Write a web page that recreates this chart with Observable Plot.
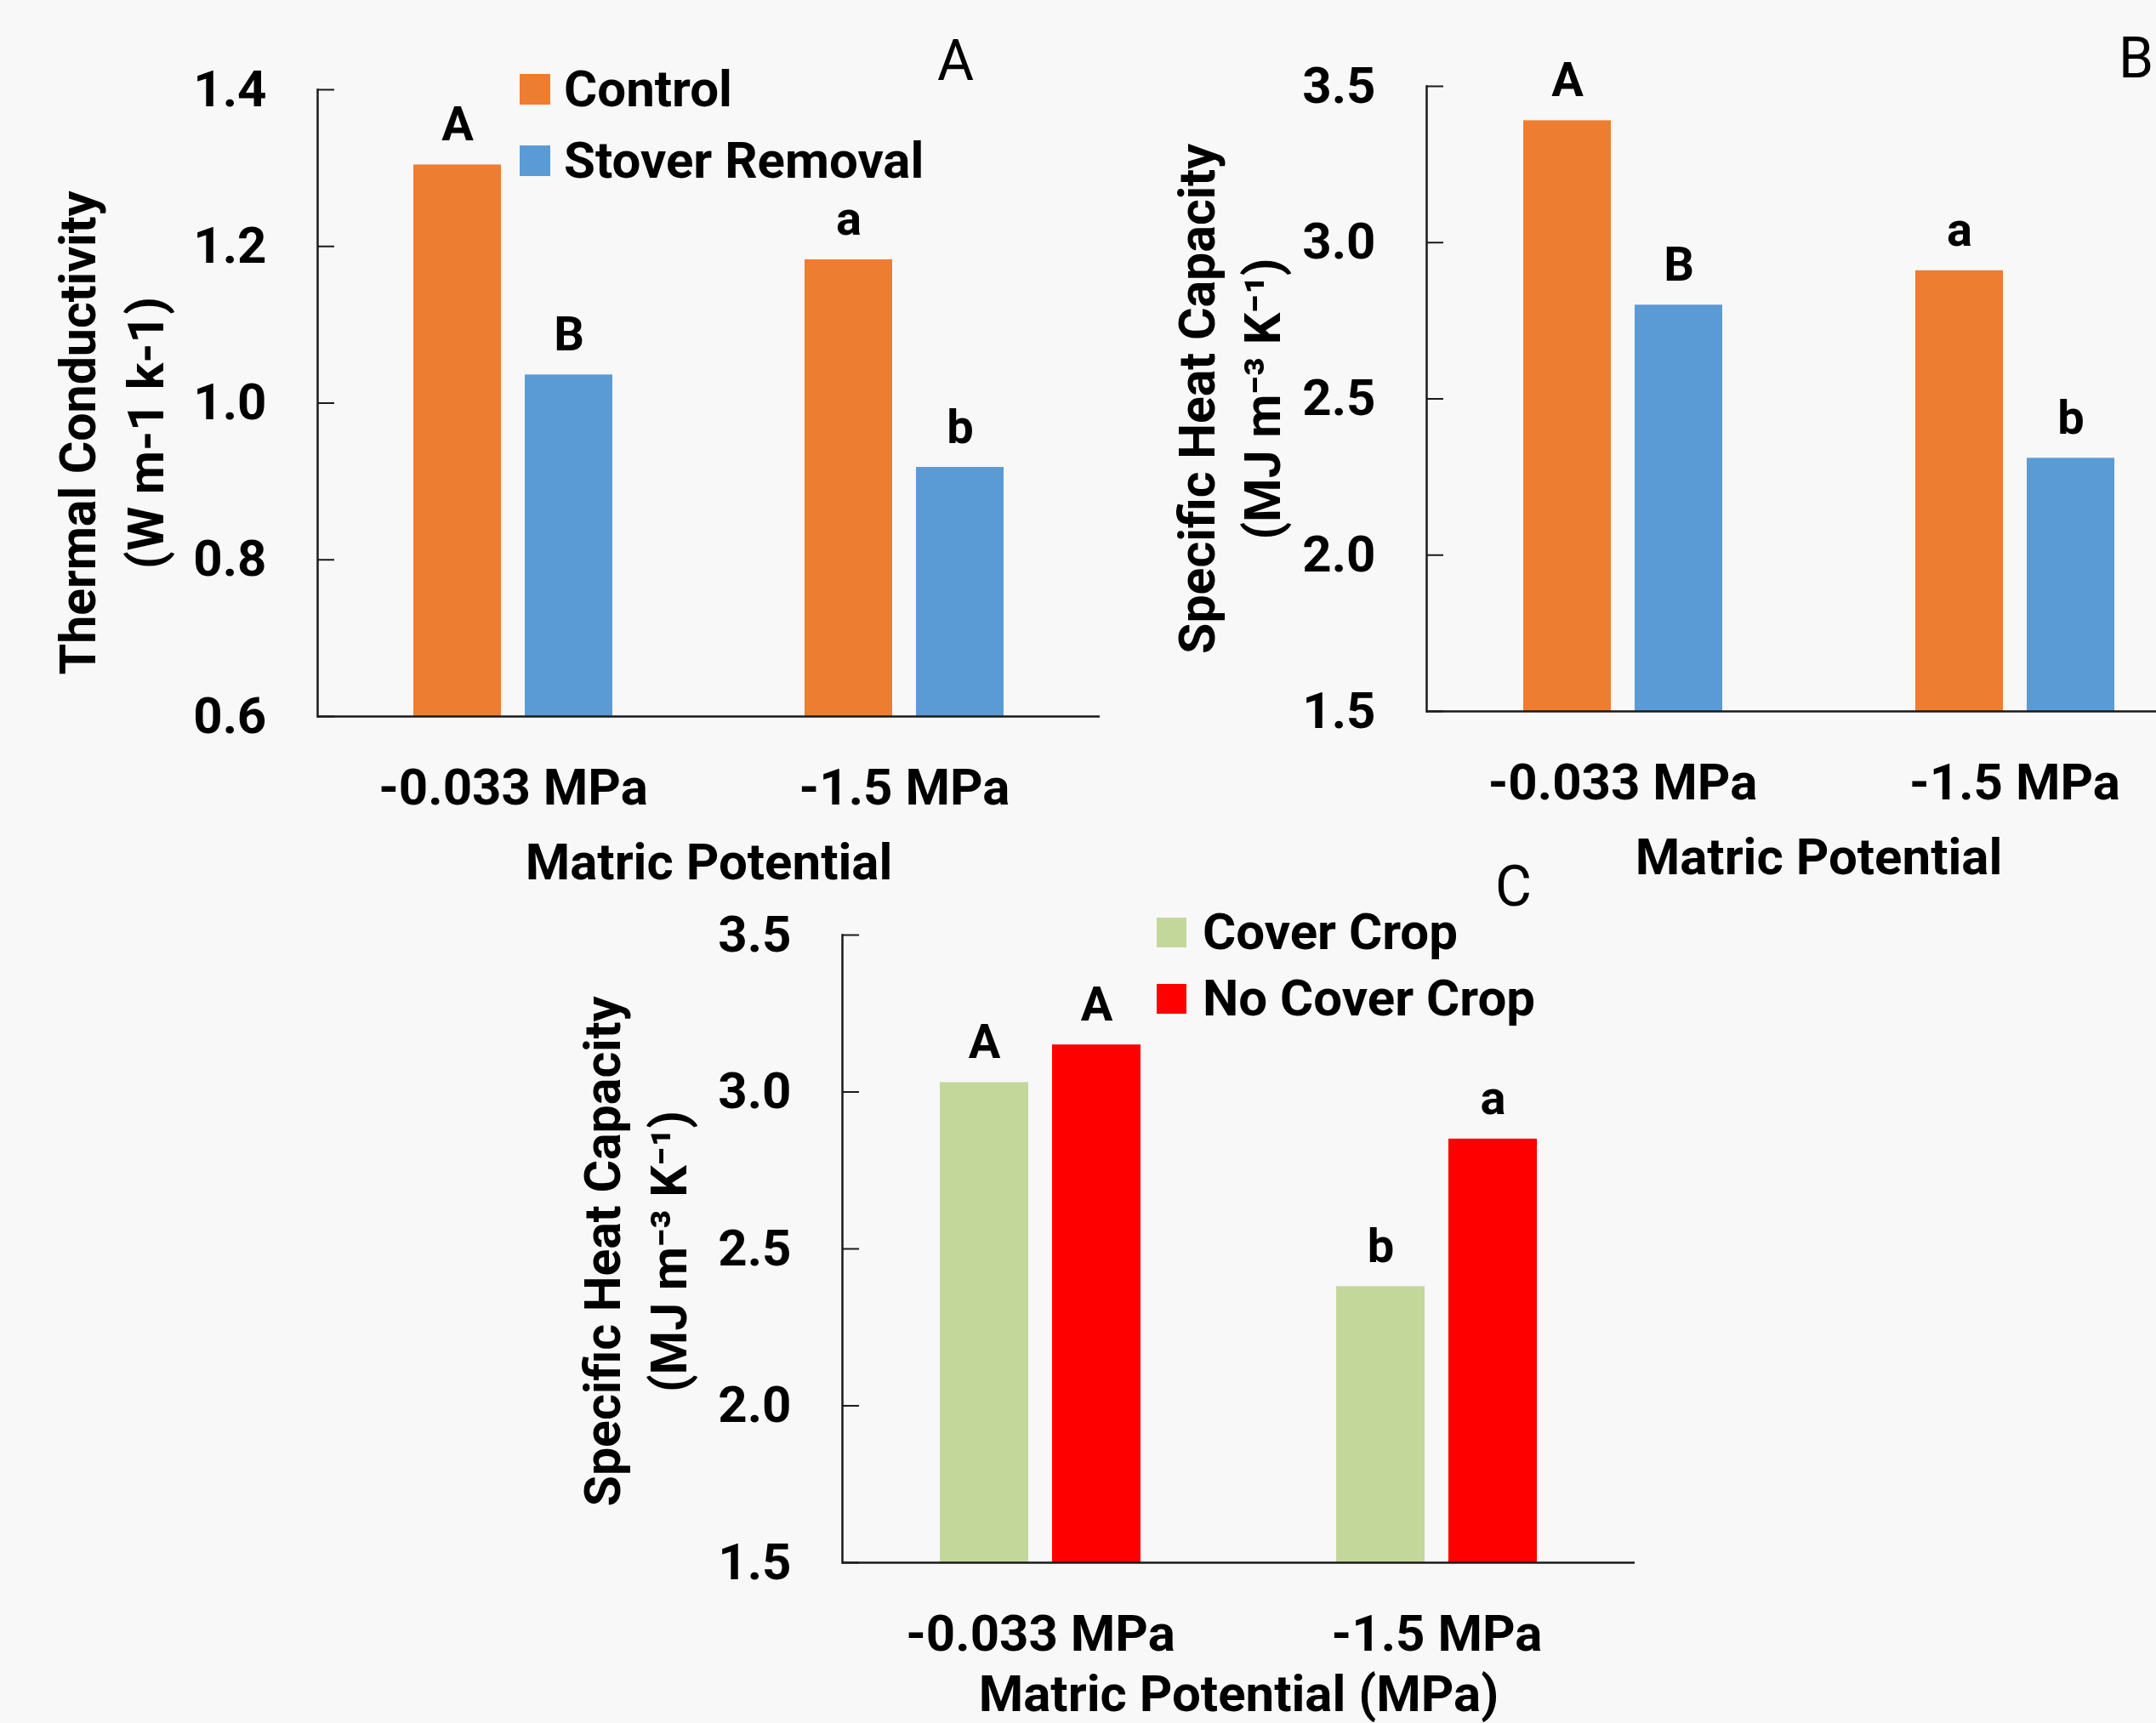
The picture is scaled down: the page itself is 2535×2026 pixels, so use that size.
<!DOCTYPE html>
<html>
<head>
<meta charset="utf-8">
<script src="https://cdn.jsdelivr.net/npm/d3@7"></script>
<script src="https://cdn.jsdelivr.net/npm/@observablehq/plot@0.6"></script>
<style>
  html, body { margin: 0; padding: 0; background: #f8f8f8; }
  body { width: 2535px; height: 2026px; overflow: hidden; position: relative; font-family: Roboto, "Liberation Sans", sans-serif; color: #000; }
  .panel { position: absolute; }
  .legend { position: absolute; font-weight: 700; font-size: 60px; line-height: 1; white-space: nowrap; }
  .legend .row { display: flex; align-items: center; }
  .legend .sw { flex: none; }
  .tag { position: absolute; font-size: 66px; line-height: 1; font-weight: 400; }
</style>
</head>
<body>
<div id="panelA" class="panel" style="left:0px;top:0px"></div>
<div id="panelB" class="panel" style="left:1300px;top:0px"></div>
<div id="panelC" class="panel" style="left:600px;top:1040px"></div>
<div id="legendA" class="legend" style="left:611px;top:63px"></div>
<div id="legendC" class="legend" style="left:1360px;top:1057px"></div>
<div class="tag" style="left:1102px;top:39px">A</div>
<div class="tag" style="left:2491px;top:36px">B</div>
<div class="tag" style="left:1758px;top:1010px">C</div>
<script>
// ---------------- data ----------------
const groups = ["-0.033 MPa", "-1.5 MPa"];

const residueSeries = ["Control", "Stover Removal"];
const residueColors = ["#ED7D31", "#5B9BD5"];
const conductivityControl = [1.304, 1.183];
const conductivityStover = [1.036, 0.918];
const heatControl = [3.39, 2.91];
const heatStover = [2.80, 2.31];
const lettersControlA = ["A", "a"];
const lettersStoverA = ["B", "b"];
const lettersControlB = ["A", "a"];
const lettersStoverB = ["B", "b"];

const coverSeries = ["Cover Crop", "No Cover Crop"];
const coverColors = ["#C4D79B", "#FF0000"];
const heatCover = [3.03, 2.38];
const heatNoCover = [3.15, 2.85];
const lettersCover = ["A", "b"];
const lettersNoCover = ["A", "a"];

const ticksConductivity = [0.6, 0.8, 1.0, 1.2, 1.4];
const ticksHeat = [1.5, 2.0, 2.5, 3.0, 3.5];

const titleConductivity = "Thermal Conductivity\n(W m-1 k-1)";
const titleHeat = "Specific Heat Capacity\n(MJ m\u207B\u00B3 K\u207B\u00B9)";
const xLabelAB = "Matric Potential";
const xLabelC = "Matric Potential (MPa)";

// ---------------- helpers ----------------
const FONT = "Roboto, 'Liberation Sans', sans-serif";
const INK = "#1a1a1a";

function makeRows(series, valueLists, letterLists) {
  const rows = [];
  groups.forEach((g, gi) => {
    series.forEach((s, si) => {
      rows.push({group: g, series: s, value: valueLists[si][gi], letter: letterLists[si][gi]});
    });
  });
  return rows;
}

function makeChart(cfg) {
  const {rows, series, colors, ticks, yTitle, xLabel, xLabelOffset, marginLeft, marginTop, plotHeight, facetWidth,
         titleDx, titleDy, titleLineHeight} = cfg;
  const marginRight = 20, marginBottom = 210;
  const yDomain = [ticks[0], ticks[ticks.length - 1]];
  return Plot.plot({
    width: marginLeft + 2 * facetWidth + marginRight,
    height: marginTop + plotHeight + marginBottom,
    marginLeft, marginTop, marginRight, marginBottom,
    style: {background: "transparent", maxWidth: "none", fontFamily: FONT, color: "#000", overflow: "visible"},
    fx: {domain: groups, padding: 0},
    x: {domain: series, paddingInner: 0.215, paddingOuter: 0.86, axis: null},
    y: {domain: yDomain},
    color: {domain: series, range: colors},
    marks: [
      Plot.barY(rows, {fx: "group", x: "series", y1: yDomain[0], y2: "value", fill: "series"}),
      Plot.ruleY([yDomain[0]], {stroke: INK, strokeWidth: 2.5}),
      Plot.frame({anchor: "left", facetAnchor: "left", stroke: INK, strokeWidth: 2.5}),
      Plot.axisY({ticks, tickSize: -20, tickFormat: () => "", stroke: INK, strokeWidth: 2, label: null}),
      Plot.axisY({ticks, tickSize: 0, tickPadding: 60, tickFormat: d3.format(".1f"),
                  fontSize: 60, fontWeight: "bold", label: null}),
      Plot.axisFx({anchor: "bottom", tickSize: 0, tickPadding: 61, fontSize: 60, fontWeight: "bold",
                   label: xLabel, labelAnchor: "center", labelOffset: xLabelOffset}),
      Plot.text(rows, {fx: "group", x: "series", y: "value", text: "letter", lineAnchor: "bottom",
                       dy: -29, fontSize: 56, fontWeight: "bold", fill: "#000"}),
      Plot.text([yTitle], {text: d => d, frameAnchor: "left", facetAnchor: "left", rotate: -90,
                           textAnchor: "middle", lineAnchor: "top", lineHeight: titleLineHeight,
                           dx: titleDx, dy: titleDy, fontSize: 59, fontWeight: "bold", fill: "#000"})
    ]
  });
}

function makeLegend(el, series, colors, rowHeight, swatch, gap) {
  series.forEach((s, i) => {
    const row = document.createElement("div");
    row.className = "row";
    row.style.height = rowHeight + "px";
    const sw = document.createElement("div");
    sw.className = "sw";
    sw.style.width = swatch + "px";
    sw.style.height = swatch + "px";
    sw.style.background = colors[i];
    sw.style.marginRight = gap + "px";
    const t = document.createElement("span");
    t.textContent = s;
    row.appendChild(sw);
    row.appendChild(t);
    el.appendChild(row);
  });
}

// ---------------- build ----------------
const rowsA = makeRows(residueSeries, [conductivityControl, conductivityStover], [lettersControlA, lettersStoverA]);
const rowsB = makeRows(residueSeries, [heatControl, heatStover], [lettersControlB, lettersStoverB]);
const rowsC = makeRows(coverSeries, [heatCover, heatNoCover], [lettersCover, lettersNoCover]);

const chartA = makeChart({rows: rowsA, series: residueSeries, colors: residueColors, ticks: ticksConductivity,
  yTitle: titleConductivity, xLabel: xLabelAB, xLabelOffset: 191, marginLeft: 373, marginTop: 105, plotHeight: 737, facetWidth: 460,
  titleDx: -318, titleDy: 35, titleLineHeight: 1.356});
const chartB = makeChart({rows: rowsB, series: residueSeries, colors: residueColors, ticks: ticksHeat,
  yTitle: titleHeat, xLabel: xLabelAB, xLabelOffset: 191, marginLeft: 377, marginTop: 101, plotHeight: 735, facetWidth: 461,
  titleDx: -304, titleDy: 0, titleLineHeight: 1.305});
const chartC = makeChart({rows: rowsC, series: coverSeries, colors: coverColors, ticks: ticksHeat,
  yTitle: titleHeat, xLabel: xLabelC, xLabelOffset: 174, marginLeft: 389, marginTop: 59, plotHeight: 738, facetWidth: 466.5,
  titleDx: -317, titleDy: 3, titleLineHeight: 1.322});

document.getElementById("panelA").appendChild(chartA);
document.getElementById("panelB").appendChild(chartB);
document.getElementById("panelC").appendChild(chartC);

makeLegend(document.getElementById("legendA"), residueSeries, residueColors, 84, 36, 16);
makeLegend(document.getElementById("legendC"), coverSeries, coverColors, 78, 35, 19);
</script>
</body>
</html>
